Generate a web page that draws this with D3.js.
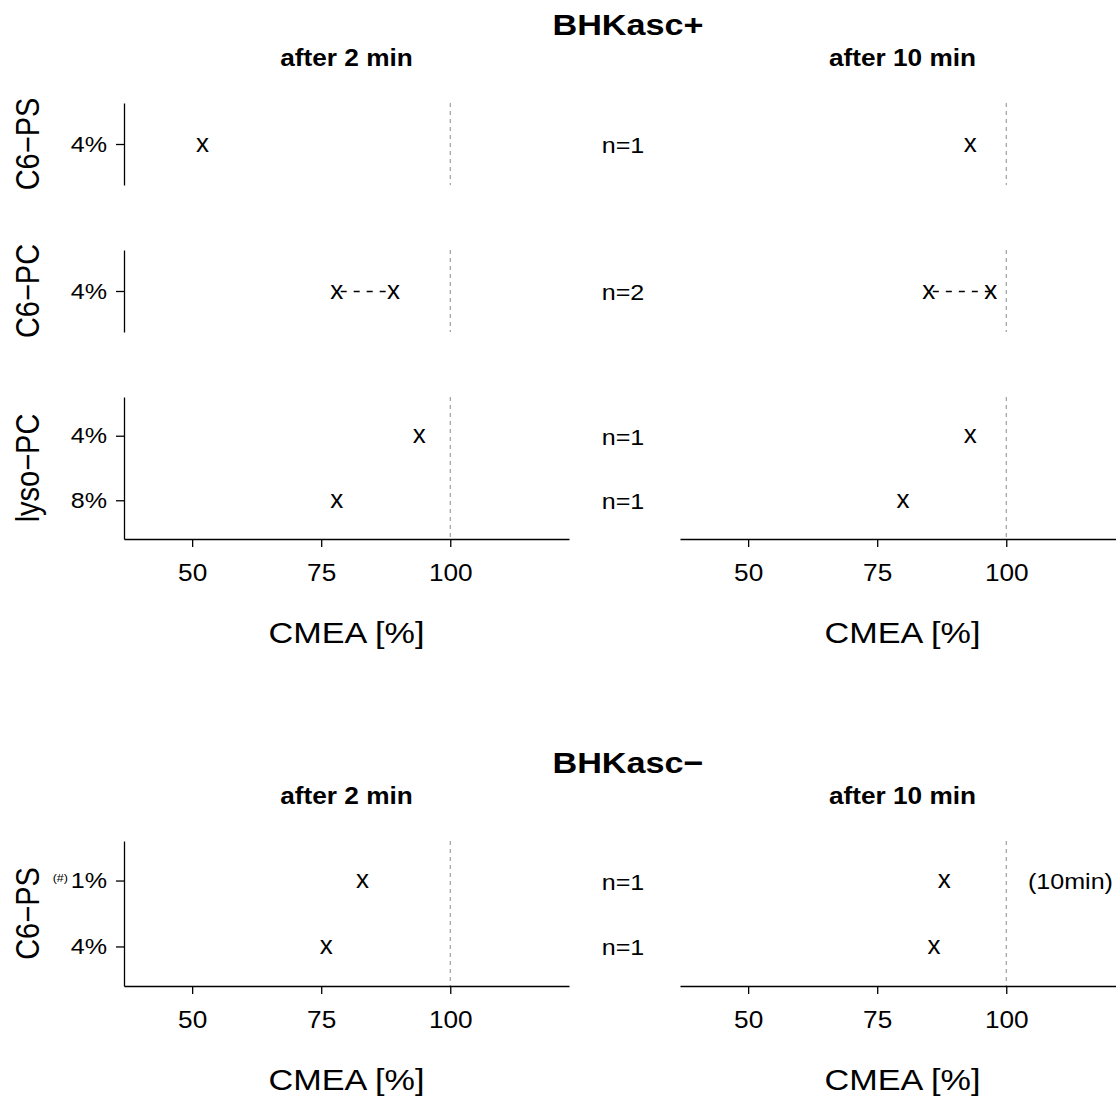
<!DOCTYPE html>
<html>
<head>
<meta charset="utf-8">
<script src="https://cdn.jsdelivr.net/npm/d3@7"></script>
<style>
body { margin: 0; background: #fff; }
text { font-family: "Liberation Sans", Arial, Helvetica, sans-serif; fill: #000; }
</style>
</head>
<body>
<div id="chart"></div>
<script>
const timepoints = ["after 2 min", "after 10 min"];
const xTicks = [50, 75, 100];

// BHKasc+
const plusGroups = ["C6−PS", "C6−PC", "lyso−PC"];
const plusConc = [["4%"], ["4%"], ["4%", "8%"]];
const plus2min = [[[52]], [[78, 89]], [[94], [78]]];
const plus10min = [[[93]], [[85, 97]], [[93], [80]]];
const plusN = [["n=1"], ["n=2"], ["n=1", "n=1"]];

// BHKasc−
const minusGroups = ["C6−PS"];
const minusConc = [["1%", "4%"]];
const minus2min = [[[83], [76]]];
const minus10min = [[[88], [86]]];
const minusN = [["n=1", "n=1"]];

const width = 1116, height = 1100;
const sx = 1.14; // text is a bit wider than tall in the original
const panels = [[124, 569], [680, 1125]];

const svg = d3.select("#chart").append("svg")
    .attr("width", width)
    .attr("height", height);

function txt(x, y, s, size, anchor, weight, rot) {
  return svg.append("text")
      .attr("transform", `translate(${x},${y}) scale(${sx},1)` + (rot ? " rotate(-90)" : ""))
      .attr("text-anchor", anchor)
      .style("font-size", size + "px")
      .style("font-weight", weight || "normal")
      .text(s);
}

function section(title, dy, groups, conc, vals, nLab, ranges) {
  txt(628, 35 + dy, title, 30, "middle", "bold");

  const xs = panels.map(r => d3.scaleLinear().domain([36.8, 123]).range(r));

  timepoints.forEach((t, p) => {
    const x = xs[p];
    txt((panels[p][0] + panels[p][1]) / 2, 66 + dy, t, 23, "middle", "bold");

    groups.forEach((g, i) => {
      const r = ranges[i];
      const y = d3.scalePoint().domain(conc[i]).range(r).padding(0.6);

      // reference line at 100 %
      svg.append("line")
          .attr("x1", x(100)).attr("x2", x(100))
          .attr("y1", r[0]).attr("y2", r[1])
          .attr("stroke", "#8a8a8a")
          .attr("stroke-width", 1)
          .attr("stroke-dasharray", "4,4");

      if (p === 0) {
        const ax = svg.append("g")
            .attr("transform", `translate(${panels[0][0]},0)`)
            .call(d3.axisLeft(y).tickSize(8).tickSizeOuter(0).tickPadding(9))
            .attr("font-size", 22);
        ax.selectAll("path,line").attr("stroke-width", 1.3);
        ax.selectAll("text")
            .attr("transform", `scale(${sx},1)`)
            .attr("x", -17 / sx);
        txt(39, (r[0] + r[1]) / 2, g, 29, "middle", "normal", true);
        conc[i].forEach((c, k) => {
          txt(623, y(c) + 9, nLab[i][k], 22, "middle");
        });
      }

      conc[i].forEach((c, k) => {
        const v = vals[p][i][k];
        if (v.length > 1) {
          svg.append("line")
              .attr("x1", x(d3.min(v))).attr("x2", x(d3.max(v)))
              .attr("y1", y(c) + 0.5).attr("y2", y(c) + 0.5)
              .attr("stroke", "#000")
              .attr("stroke-width", 1.6)
              .attr("stroke-dasharray", "6,7")
              .attr("stroke-dashoffset", -4);
        }
        v.forEach(d => {
          svg.append("text")
              .attr("x", x(d))
              .attr("y", y(c) + 7.5)
              .attr("text-anchor", "middle")
              .style("font-size", "26px")
              .text("x");
        });
      });
    });

    const yb = ranges[ranges.length - 1][1];
    const xa = svg.append("g")
        .attr("transform", `translate(0,${yb})`)
        .call(d3.axisBottom(x).tickValues(xTicks).tickSize(8).tickSizeOuter(0).tickPadding(18))
        .attr("font-size", 23);
    xa.selectAll("path,line").attr("stroke-width", 1.3);
    xa.selectAll("text").attr("transform", `scale(${sx},1)`);
    txt((panels[p][0] + panels[p][1]) / 2, yb + 104, "CMEA [%]", 30, "middle");
  });
}

section("BHKasc+", 0, plusGroups, plusConc, [plus2min, plus10min], plusN,
  [[103, 185], [250, 332], [397, 539]]);
section("BHKasc−", 738, minusGroups, minusConc, [minus2min, minus10min], minusN,
  [[841, 986]]);

// notes on the 1% row
txt(68, 882, "(#)", 11, "end");
txt(1028, 889, "(10min)", 22, "start");
</script>
</body>
</html>
